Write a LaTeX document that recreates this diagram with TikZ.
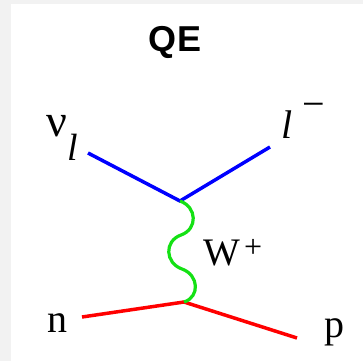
\documentclass[tikz,border=0pt]{standalone}
\usepackage{fontspec}
\setmainfont{Liberation Serif}
\newfontfamily\titlefont{Liberation Sans}
\definecolor{wgreen}{RGB}{20,225,20}
\begin{document}
\begin{tikzpicture}[x=1pt,y=-1pt,
  lbl/.style={inner sep=0pt, anchor=base west, font=\fontsize{40}{40}\selectfont},
  lepton/.style={draw=blue, line width=3.5pt},
  hadron/.style={draw=red, line width=3.5pt},
  boson/.style={draw=wgreen, line width=3.2pt}]
\useasboundingbox (0,0) rectangle (363,361);
\fill[black!5] (0,0) rectangle (363,361);
\fill[white] (11,4) rectangle (363,361);
% title
\node[inner sep=0pt, anchor=base, font=\titlefont\bfseries\fontsize{36}{36}\selectfont] (title) at (175,51) {QE};
% labels
\node[lbl, font=\fontsize{46}{46}\selectfont] (nu) at (46,136) {ν};
\node[lbl, font=\fontsize{38}{38}\selectfont\itshape] (nul) at (67,160) {l};
\node[lbl, font=\fontsize{40}{40}\selectfont\itshape] (lep) at (281,138) {l};
\node[lbl, font=\fontsize{40}{40}\selectfont] (lm) at (302,117) {−};
\node[lbl, font=\fontsize{39}{39}\selectfont] (W) at (203,265) {W};
\node[lbl, font=\fontsize{32}{32}\selectfont] (Wp) at (244,257) {+};
\node[lbl] (n) at (47,332) {n};
\node[lbl] (p) at (324,337) {p};
% vertices and ends
\coordinate (v1) at (180,201);
\coordinate (v2) at (184,302);
\coordinate (a) at (88,153);
\coordinate (b) at (270,147);
\coordinate (c) at (82,317);
\coordinate (d) at (297,338);
\coordinate (w1) at (181,235);
\coordinate (w2) at (182,269);
% lines
\draw[lepton] (a) -- (v1) -- (b);
\draw[hadron] (c) -- (v2) -- (d);
\draw[boson] (v1) .. controls (197,207) and (198,229) .. (w1)
  .. controls (164,241) and (165,263) .. (w2)
  .. controls (199,275) and (200,297) .. (v2);
\end{tikzpicture}
\end{document}
